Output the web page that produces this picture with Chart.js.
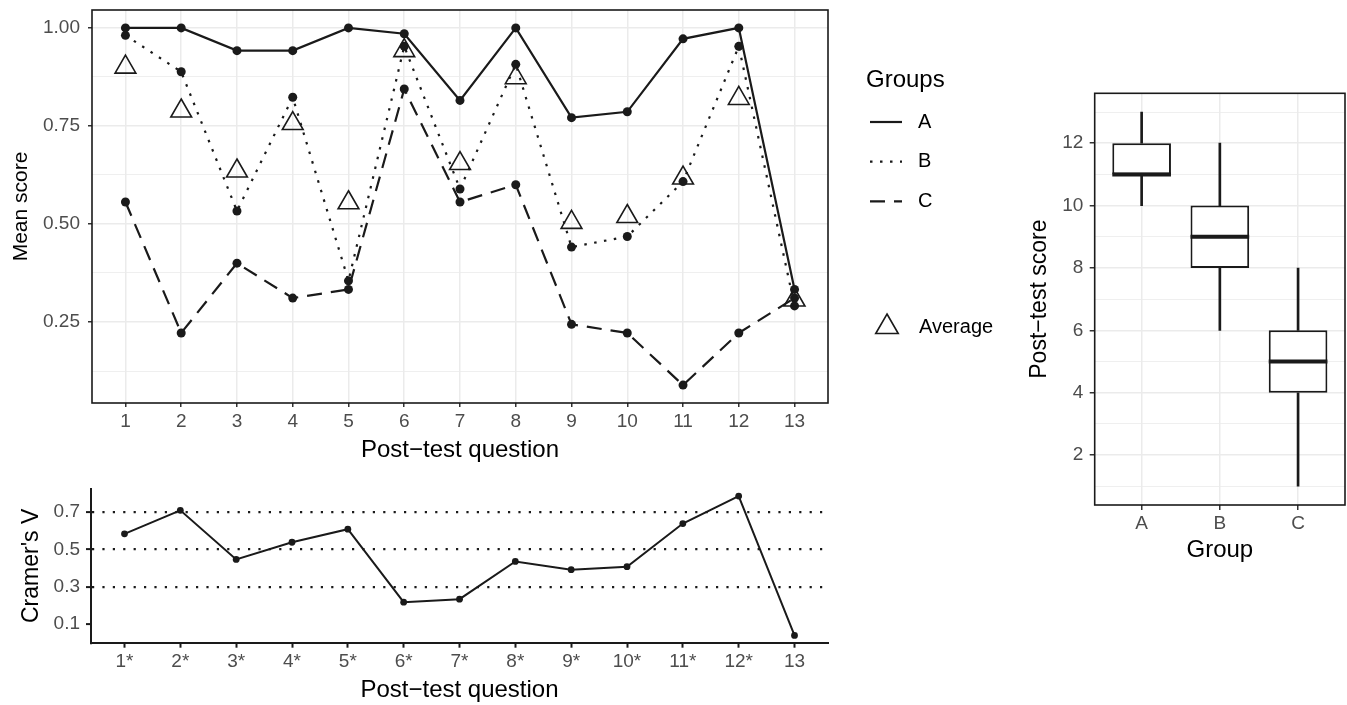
<!DOCTYPE html>
<html>
<head>
<meta charset="utf-8">
<title>Post-test scores</title>
<script src="https://cdn.jsdelivr.net/npm/chart.js@4.4.0/dist/chart.umd.min.js"></script>
<style>
  html, body { margin: 0; padding: 0; background: #fff; }
  #wrap { position: relative; width: 1347px; height: 705px; overflow: hidden; }
  canvas { position: absolute; }
</style>
</head>
<body>
<div id="wrap">
  <canvas id="meanChart" width="1010" height="468" style="left:0px;top:0px"></canvas>
  <canvas id="cramerChart" width="1010" height="240" style="left:0px;top:465px"></canvas>
  <canvas id="boxChart" width="337" height="705" style="left:1010px;top:0px"></canvas>
</div>
<script>
// ---- data ----
const questionLabels = ['1', '2', '3', '4', '5', '6', '7', '8', '9', '10', '11', '12', '13'];
const groupA = [1.00, 1.00, 0.942, 0.942, 1.00, 0.985, 0.815, 1.00, 0.771, 0.786, 0.972, 1.00, 0.333];
const groupB = [0.981, 0.888, 0.533, 0.823, 0.355, 0.953, 0.589, 0.907, 0.441, 0.468, 0.608, 0.953, 0.291];
const groupC = [0.556, 0.222, 0.400, 0.311, 0.333, 0.844, 0.556, 0.600, 0.244, 0.222, 0.089, 0.222, 0.311];
const average = [0.900, 0.788, 0.635, 0.756, 0.554, 0.942, 0.654, 0.873, 0.504, 0.519, 0.617, 0.820, 0.306];
const meanMajorTicks = [0.25, 0.50, 0.75, 1.00];
const meanMinorTicks = [0.125, 0.375, 0.625, 0.875];

const cramerLabels = ['1*', '2*', '3*', '4*', '5*', '6*', '7*', '8*', '9*', '10*', '11*', '12*', '13'];
const cramerV = [0.583, 0.709, 0.446, 0.538, 0.608, 0.217, 0.233, 0.435, 0.391, 0.407, 0.638, 0.785, 0.039];
const cramerTicks = [0.1, 0.3, 0.5, 0.7];
const cramerRefLevels = [0.3, 0.5, 0.7];

const boxGroups = ['A', 'B', 'C'];
const boxMin = [10, 6, 1];
const boxQ1 = [11, 8, 4];
const boxMedian = [11, 9, 5];
const boxQ3 = [12, 10, 6];
const boxMax = [13, 12, 8];
const scoreMajorTicks = [2, 4, 6, 8, 10, 12];
const scoreMinorTicks = [1, 3, 5, 7, 9, 11, 13];

const legendTitle = 'Groups';
const groupNames = ['A', 'B', 'C'];
const averageLabel = 'Average';

// ---- styles ----
const INK = '#1a1a1a';
const TICK_TEXT = '#4d4d4d';
const GRID = '#ebebeb';
const FONT = "'Liberation Sans', Arial, Helvetica, sans-serif";
const CLEAR = 'rgba(0,0,0,0)';
const TICK_SIZE = 19;
const XTITLE_SIZE = 24;

Chart.defaults.font.family = FONT;
Chart.defaults.animation = false;
Chart.defaults.plugins.legend.display = false;
Chart.defaults.plugins.tooltip.enabled = false;

// turn a value list into points at x = 1..n
function atPositions(values) {
    return values.map((v, i) => ({ x: i + 1, y: v }));
}

// fixed axis size, no extra label padding pushed into the layout
function fixSize(prop, size) {
    return scale => {
        scale[prop] = size;
        scale.paddingTop = 0;
        scale.paddingBottom = 0;
        scale.paddingLeft = 0;
        scale.paddingRight = 0;
    };
}

// panel outline like theme_bw
const panelBorder = {
    id: 'panelBorder',
    afterDraw(chart) {
        const { ctx, chartArea: a } = chart;
        ctx.save();
        ctx.strokeStyle = INK;
        ctx.lineWidth = 1.6;
        ctx.strokeRect(a.left, a.top, a.right - a.left, a.bottom - a.top);
        ctx.restore();
    }
};

// legend at the right of the mean score panel
const groupLegend = {
    id: 'groupLegend',
    afterDraw(chart) {
        const ctx = chart.ctx;
        const sets = chart.data.datasets;
        ctx.save();
        ctx.fillStyle = '#000';
        ctx.textBaseline = 'middle';
        ctx.textAlign = 'left';
        ctx.font = '24px ' + FONT;
        ctx.fillText(legendTitle, 866, 80);
        ctx.font = '20px ' + FONT;
        groupNames.forEach((name, i) => {
            const ds = sets[i];
            const y = 122 + i * 39.7;
            ctx.strokeStyle = ds.borderColor;
            ctx.lineWidth = ds.borderWidth;
            ctx.setLineDash(ds.borderDash || []);
            ctx.beginPath();
            ctx.moveTo(870, y);
            ctx.lineTo(902, y);
            ctx.stroke();
            ctx.fillText(name, 918, y);
        });
        // hollow triangle for the average
        ctx.setLineDash([]);
        const r = 13, cx = 887, cy = 327;
        ctx.lineWidth = 1.6;
        ctx.strokeStyle = INK;
        ctx.beginPath();
        ctx.moveTo(cx, cy - r);
        ctx.lineTo(cx + r * 0.866, cy + r / 2);
        ctx.lineTo(cx - r * 0.866, cy + r / 2);
        ctx.closePath();
        ctx.stroke();
        ctx.fillText(averageLabel, 919, 327);
        ctx.restore();
    }
};

/**
 * Top left: mean score per question
 */
new Chart(document.getElementById('meanChart'), {
    type: 'line',
    data: {
        datasets: [
            {
                label: 'A', data: atPositions(groupA),
                borderColor: INK, borderWidth: 2.2, borderDash: [],
                pointRadius: 4.5, pointBackgroundColor: INK, pointBorderWidth: 0, order: 3
            },
            {
                label: 'B', data: atPositions(groupB),
                borderColor: INK, borderWidth: 2.2, borderDash: [2.5, 7.5],
                pointRadius: 4.5, pointBackgroundColor: INK, pointBorderWidth: 0, order: 2
            },
            {
                label: 'C', data: atPositions(groupC),
                borderColor: INK, borderWidth: 2.2, borderDash: [15, 9],
                pointRadius: 4.5, pointBackgroundColor: INK, pointBorderWidth: 0, order: 1
            },
            {
                label: 'Average', data: atPositions(average), showLine: false,
                pointStyle: 'triangle', pointRadius: 12, pointBorderColor: INK,
                pointBorderWidth: 1.6, pointBackgroundColor: CLEAR, order: 0
            }
        ]
    },
    options: {
        responsive: false,
        layout: { autoPadding: false, padding: { top: 10, right: 182, left: 0, bottom: 0 } },
        scales: {
            x: {
                type: 'linear', min: 0.4, max: 13.6,
                afterBuildTicks: axis => { axis.ticks = questionLabels.map((l, i) => ({ value: i + 1 })); },
                ticks: {
                    callback: v => questionLabels[Math.round(v) - 1],
                    color: TICK_TEXT, font: { size: TICK_SIZE }, padding: 3.6, maxRotation: 0, autoSkip: false
                },
                grid: { color: GRID, lineWidth: 1.5, tickColor: '#333', tickLength: 4, tickWidth: 1.5 },
                border: { display: false },
                title: {
                    display: true, text: 'Post−test question', color: '#000',
                    font: { size: XTITLE_SIZE }, padding: { top: 0, bottom: 3.6 }
                },
                afterFit: fixSize('height', 65)
            },
            y: {
                type: 'linear', min: 0.0434, max: 1.0456,
                afterBuildTicks: axis => {
                    axis.ticks = meanMinorTicks.concat(meanMajorTicks).sort((a, b) => a - b).map(v => ({ value: v }));
                },
                ticks: {
                    callback: v => meanMajorTicks.includes(v) ? v.toFixed(2) : '',
                    color: TICK_TEXT, font: { size: TICK_SIZE }, padding: 8, autoSkip: false
                },
                grid: {
                    color: GRID,
                    lineWidth: c => meanMajorTicks.includes(c.tick.value) ? 1.5 : 0.8,
                    tickColor: c => meanMajorTicks.includes(c.tick.value) ? '#333' : CLEAR,
                    tickLength: 4, tickWidth: 1.5
                },
                border: { display: false },
                title: {
                    display: true, text: 'Mean score', color: '#000',
                    font: { size: 21 }, padding: { top: 9.1, bottom: 0 }
                },
                afterFit: fixSize('width', 92)
            }
        }
    },
    plugins: [panelBorder, groupLegend]
});

/**
 * Bottom left: Cramer's V per question
 */
new Chart(document.getElementById('cramerChart'), {
    type: 'line',
    data: {
        datasets: [{
            label: "Cramer's V", data: atPositions(cramerV),
            borderColor: INK, borderWidth: 2,
            pointRadius: 3.4, pointBackgroundColor: INK, pointBorderWidth: 0
        }]
    },
    options: {
        responsive: false,
        layout: { autoPadding: false, padding: { top: 24, right: 182, left: 0, bottom: 0 } },
        scales: {
            x: {
                type: 'linear', min: 0.4, max: 13.6,
                afterBuildTicks: axis => { axis.ticks = cramerLabels.map((l, i) => ({ value: i + 1 })); },
                ticks: {
                    callback: v => cramerLabels[Math.round(v) - 1],
                    color: TICK_TEXT, font: { size: TICK_SIZE }, padding: 2.6, maxRotation: 0, autoSkip: false
                },
                grid: { drawOnChartArea: false, tickLength: 5, tickColor: INK, tickWidth: 2 },
                border: { display: true, color: INK, width: 2 },
                title: {
                    display: true, text: 'Post−test question', color: '#000',
                    font: { size: XTITLE_SIZE }, padding: { top: 0, bottom: 0.6 }
                },
                afterFit: fixSize('height', 62.3)
            },
            y: {
                type: 'linear', min: 0, max: 0.823,
                afterBuildTicks: axis => { axis.ticks = cramerTicks.map(v => ({ value: v })); },
                ticks: {
                    callback: v => v.toFixed(1),
                    color: TICK_TEXT, font: { size: TICK_SIZE }, padding: 6, autoSkip: false
                },
                grid: {
                    color: c => cramerRefLevels.includes(c.tick.value) ? INK : CLEAR,
                    lineWidth: 2.2, tickLength: 5, tickColor: INK, tickWidth: 2
                },
                border: { display: true, color: INK, width: 2, dash: [2.2, 8.2] },
                title: {
                    display: true, text: "Cramer's V", color: '#000',
                    font: { size: 23 }, padding: { top: 17.9, bottom: 0 }
                },
                afterFit: fixSize('width', 91)
            }
        }
    }
});

/**
 * Right: post-test score box plot per group
 */
const boxHalfWidth = 0.375;
const medianSegments = [];
boxGroups.forEach((g, i) => {
    medianSegments.push({ x: i + 1 - boxHalfWidth, y: boxMedian[i] });
    medianSegments.push({ x: i + 1 + boxHalfWidth, y: boxMedian[i] });
    medianSegments.push({ x: i + 1 + boxHalfWidth, y: null });
});

new Chart(document.getElementById('boxChart'), {
    type: 'bar',
    data: {
        datasets: [
            {
                label: 'lower whisker',
                data: boxGroups.map((g, i) => ({ x: i + 1, y: [boxMin[i], boxQ1[i]] })),
                backgroundColor: INK, borderWidth: 0, barThickness: 2, grouped: false, order: 4
            },
            {
                label: 'upper whisker',
                data: boxGroups.map((g, i) => ({ x: i + 1, y: [boxQ3[i], boxMax[i]] })),
                backgroundColor: INK, borderWidth: 0, barThickness: 2, grouped: false, order: 3
            },
            {
                label: 'box',
                data: boxGroups.map((g, i) => ({ x: i + 1, y: [boxQ1[i], boxQ3[i]] })),
                backgroundColor: '#fff', borderColor: INK, borderWidth: 2, borderSkipped: false,
                barPercentage: 0.75, categoryPercentage: 1, grouped: false, order: 2
            },
            {
                type: 'line', label: 'median', data: medianSegments,
                borderColor: INK, borderWidth: 4, pointRadius: 0, spanGaps: false, order: 1
            }
        ]
    },
    options: {
        responsive: false,
        layout: { autoPadding: false, padding: { top: 93.3, right: 2, left: 0, bottom: 130 } },
        scales: {
            x: {
                type: 'linear', min: 0.4, max: 3.6, offset: false,
                afterBuildTicks: axis => { axis.ticks = boxGroups.map((g, i) => ({ value: i + 1 })); },
                ticks: {
                    callback: v => boxGroups[Math.round(v) - 1],
                    color: TICK_TEXT, font: { size: TICK_SIZE }, padding: 1.9, maxRotation: 0, autoSkip: false
                },
                grid: { offset: false, color: GRID, lineWidth: 1.5, tickColor: '#333', tickLength: 5, tickWidth: 1.5 },
                border: { display: false },
                title: {
                    display: true, text: 'Group', color: '#000',
                    font: { size: XTITLE_SIZE }, padding: { top: 0, bottom: 10.6 }
                },
                afterFit: fixSize('height', 70)
            },
            y: {
                type: 'linear', min: 0.4, max: 13.6,
                afterBuildTicks: axis => {
                    axis.ticks = scoreMinorTicks.concat(scoreMajorTicks).sort((a, b) => a - b).map(v => ({ value: v }));
                },
                ticks: {
                    callback: v => scoreMajorTicks.includes(v) ? String(v) : '',
                    color: TICK_TEXT, font: { size: TICK_SIZE }, padding: 6.4, autoSkip: false
                },
                grid: {
                    color: GRID,
                    lineWidth: c => scoreMajorTicks.includes(c.tick.value) ? 1.5 : 0.8,
                    tickColor: c => scoreMajorTicks.includes(c.tick.value) ? '#333' : CLEAR,
                    tickLength: 5, tickWidth: 1.5
                },
                border: { display: false },
                title: {
                    display: true, text: 'Post−test score', color: '#000',
                    font: { size: 23 }, padding: { top: 16.2, bottom: 0 }
                },
                afterFit: fixSize('width', 84.7)
            }
        }
    },
    plugins: [panelBorder]
});
</script>
</body>
</html>
